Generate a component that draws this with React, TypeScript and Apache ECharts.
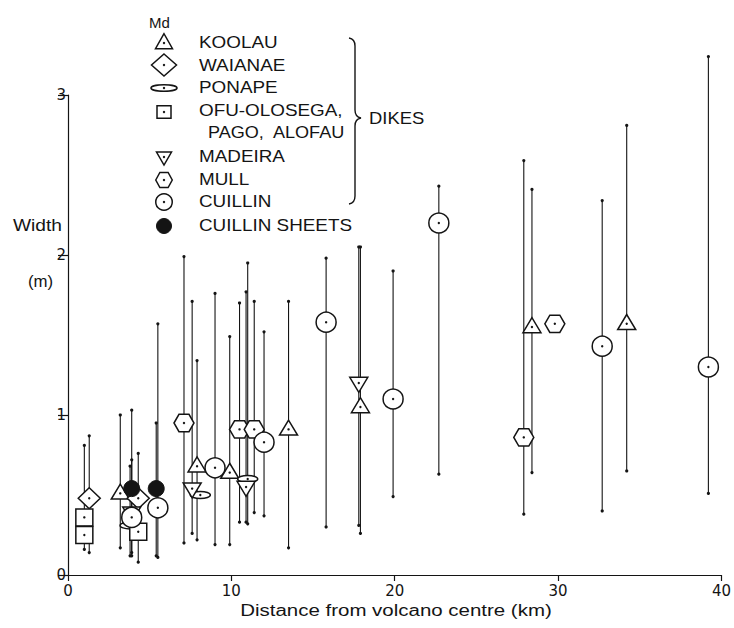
import React, { useEffect, useRef } from "react";
import * as echarts from "echarts";

// Each row: [distance from volcano centre (km), median width (m), min width, max width]
const koolau = [
  [3.2, 0.51, 0.17, 1.0],
  [7.9, 0.68, 0.22, 1.34],
  [9.9, 0.64, 0.19, 1.49],
  [13.5, 0.91, 0.17, 1.71],
  [17.9, 1.05, 0.26, 2.05],
  [28.4, 1.55, 0.64, 2.41],
  [34.2, 1.57, 0.65, 2.81],
];
const waianae = [
  [1.3, 0.48, 0.14, 0.87],
  [4.3, 0.48, null, null],
];
const ponape = [
  [3.8, 0.31, 0.12, 0.68],
  [8.1, 0.5, null, null],
  [11.0, 0.6, 0.32, 1.95],
];
const ofu = [
  [1.0, 0.36, 0.16, 0.81],
  [1.0, 0.25, null, null],
  [4.3, 0.27, 0.08, 0.76],
];
const madeira = [
  [3.9, 0.39, 0.12, 0.72],
  [7.6, 0.54, 0.26, 1.71],
  [10.9, 0.55, 0.33, 1.77],
  [17.8, 1.2, 0.31, 2.05],
];
const mull = [
  [7.1, 0.95, 0.2, 1.99],
  [10.5, 0.91, 0.33, 1.7],
  [11.4, 0.91, 0.39, 1.71],
  [27.9, 0.86, 0.38, 2.59],
  [29.8, 1.57, null, null],
];
const cuillin = [
  [3.9, 0.36, null, null],
  [5.5, 0.42, 0.11, 1.57],
  [9.0, 0.67, 0.19, 1.76],
  [12.0, 0.83, 0.37, 1.52],
  [15.8, 1.58, 0.3, 1.98],
  [19.9, 1.1, 0.49, 1.9],
  [22.7, 2.2, 0.63, 2.43],
  [32.7, 1.43, 0.4, 2.34],
  [39.2, 1.3, 0.51, 3.24],
];
const sheets = [
  [3.9, 0.54, 0.14, 1.03],
  [5.4, 0.54, 0.12, 0.95],
];

const xTicks = [0, 10, 20, 30, 40];
const yTicks = [0, 1, 2, 3];

const groups = [
  { name: "KOOLAU", kind: "triangle", data: koolau },
  { name: "WAIANAE", kind: "diamond", data: waianae },
  { name: "PONAPE", kind: "ellipse", data: ponape },
  { name: "OFU-OLOSEGA, PAGO, ALOFAU", kind: "square", data: ofu },
  { name: "MADEIRA", kind: "invtri", data: madeira },
  { name: "MULL", kind: "hexagon", data: mull },
  { name: "CUILLIN", kind: "circle", data: cuillin },
  { name: "CUILLIN SHEETS", kind: "filled", data: sheets },
];

const INK = "#141414";
const FONT = "Liberation Sans";

const plotSize: Record<string, any> = {
  triangle: { w: 18, h: 15 },
  invtri: { w: 18, h: 15 },
  diamond: { w: 22, h: 21 },
  ellipse: { w: 20, h: 7 },
  square: { w: 17, h: 17 },
  hexagon: { w: 20, h: 17.3 },
  circle: { w: 20, h: 20 },
  filled: { w: 16, h: 16 },
};
const legendSize: Record<string, any> = {
  triangle: { w: 17, h: 15 },
  invtri: { w: 15, h: 13 },
  diamond: { w: 25, h: 22 },
  ellipse: { w: 26, h: 6.5 },
  square: { w: 14, h: 12.5 },
  hexagon: { w: 16.5, h: 15 },
  circle: { w: 16.5, h: 16.5 },
  filled: { w: 15, h: 15 },
};

function shapeEls(kind: string, cx: number, cy: number, s: any) {
  const st = { fill: "#fff", stroke: INK, lineWidth: 1.5 };
  let main: any;
  const w = s.w, h = s.h;
  switch (kind) {
    case "triangle":
      main = { type: "polygon", shape: { points: [[cx, cy - h * 0.62], [cx - w / 2, cy + h * 0.38], [cx + w / 2, cy + h * 0.38]] }, style: st };
      break;
    case "invtri":
      main = { type: "polygon", shape: { points: [[cx - w / 2, cy - h * 0.38], [cx + w / 2, cy - h * 0.38], [cx, cy + h * 0.62]] }, style: st };
      break;
    case "diamond":
      main = { type: "polygon", shape: { points: [[cx, cy - h / 2], [cx + w / 2, cy], [cx, cy + h / 2], [cx - w / 2, cy]] }, style: st };
      break;
    case "ellipse":
      main = { type: "ellipse", shape: { cx, cy, rx: w / 2, ry: h / 2 }, style: st };
      break;
    case "square":
      main = { type: "rect", shape: { x: cx - w / 2, y: cy - h / 2, width: w, height: h }, style: st };
      break;
    case "hexagon":
      main = {
        type: "polygon",
        shape: {
          points: [
            [cx - w / 2, cy], [cx - w / 4, cy - h / 2], [cx + w / 4, cy - h / 2],
            [cx + w / 2, cy], [cx + w / 4, cy + h / 2], [cx - w / 4, cy + h / 2],
          ],
        },
        style: st,
      };
      break;
    case "circle":
      main = { type: "circle", shape: { cx, cy, r: w / 2 }, style: st };
      break;
    default:
      main = { type: "circle", shape: { cx, cy, r: w / 2 }, style: { fill: INK, stroke: INK, lineWidth: 1 } };
  }
  const els = [main];
  if (kind !== "filled") els.push({ type: "circle", shape: { cx, cy, r: 1.2 }, style: { fill: INK } });
  return els;
}

const BraceShape = (echarts as any).graphic.extendPath(
  "M349,38 Q355,39 355,46 L355,110 Q355,117 361,118 Q355,119 355,126 L355,196 Q355,203 349,204",
  {}
);
(echarts as any).graphic.registerShape("brace", BraceShape);

const toNum = (v: any) => (v == null ? NaN : v);

export default function App() {
  const ref = useRef<HTMLDivElement>(null);
  useEffect(() => {
    document.body.style.margin = "0";
    if (!ref.current) return;
    const chart = echarts.init(ref.current, null, { renderer: "svg" });

    const rangeData: any[] = [];
    groups.forEach((g) => g.data.forEach((d) => { if (d[2] != null && d[3] != null) rangeData.push([d[0], d[1], d[2], d[3]]); }));

    const rangeSeries: any = {
      type: "custom",
      name: "ranges",
      clip: false,
      silent: true,
      z: 2,
      encode: { x: 0, y: 1 },
      data: rangeData,
      renderItem: (_p: any, api: any) => {
        const x = api.value(0);
        const a = api.coord([x, api.value(2)]);
        const b = api.coord([x, api.value(3)]);
        return {
          type: "group",
          children: [
            { type: "line", shape: { x1: a[0], y1: a[1], x2: b[0], y2: b[1] }, style: { stroke: INK, lineWidth: 1.1 } },
            { type: "circle", shape: { cx: a[0], cy: a[1], r: 1.6 }, style: { fill: INK } },
            { type: "circle", shape: { cx: b[0], cy: b[1], r: 1.6 }, style: { fill: INK } },
          ],
        };
      },
    };

    const markerSeries = groups.map((g, i) => ({
      type: "custom",
      name: g.name,
      clip: false,
      silent: true,
      z: 3 + i,
      encode: { x: 0, y: 1 },
      data: g.data.map((d) => [d[0], d[1], toNum(d[2]), toNum(d[3])]),
      renderItem: (_p: any, api: any) => {
        const c = api.coord([api.value(0), api.value(1)]);
        return { type: "group", children: shapeEls(g.kind, c[0], c[1], plotSize[g.kind]) };
      },
    }));

    // Legend (drawn)
    const legendRows = [
      { kind: "triangle", label: "KOOLAU", sy: 43, ty: 43 },
      { kind: "diamond", label: "WAIANAE", sy: 65, ty: 66 },
      { kind: "ellipse", label: "PONAPE", sy: 88, ty: 88 },
      { kind: "square", label: "OFU-OLOSEGA,", sy: 112, ty: 111 },
      { kind: "invtri", label: "MADEIRA", sy: 157, ty: 157 },
      { kind: "hexagon", label: "MULL", sy: 180, ty: 180 },
      { kind: "circle", label: "CUILLIN", sy: 202, ty: 202 },
      { kind: "filled", label: "CUILLIN SHEETS", sy: 226, ty: 226 },
    ];
    const textStyle = (text: string, extra: any = {}) => ({
      text,
      fontFamily: FONT,
      fontSize: 16,
      fill: INK,
      align: "left",
      verticalAlign: "middle",
      ...extra,
    });
    const graphic: any[] = [];
    graphic.push({ type: "text", x: 149, y: 22, silent: true, style: textStyle("Md", { fontSize: 15 }) });
    legendRows.forEach((r) => {
      shapeEls(r.kind, 164, r.sy, legendSize[r.kind]).forEach((e: any) => graphic.push({ ...e, silent: true }));
      graphic.push({ type: "text", x: 199, y: r.ty, scaleX: 1.18, silent: true, style: textStyle(r.label) });
    });
    graphic.push({ type: "text", x: 208, y: 133, scaleX: 1.13, silent: true, style: textStyle("PAGO,  ALOFAU") });
    graphic.push({ type: "brace", x: 0, y: 0, silent: true, style: { fill: "none", stroke: INK, lineWidth: 1.4 } });
    graphic.push({ type: "text", x: 369, y: 118, scaleX: 1.15, silent: true, style: textStyle("DIKES") });
    graphic.push({ type: "text", x: 13, y: 226, scaleX: 1.2, silent: true, style: textStyle("Width") });
    graphic.push({ type: "text", x: 28, y: 281, scaleX: 1.05, silent: true, style: textStyle("(m)") });
    graphic.push({
      type: "text",
      x: 396,
      y: 610,
      scaleX: 1.28,
      silent: true,
      style: textStyle("Distance from volcano centre (km)", { align: "center" }),
    });

    chart.setOption({
      animation: false,
      backgroundColor: "#fff",
      grid: { left: 68, right: 10, top: 95, bottom: 53, containLabel: false },
      xAxis: {
        type: "value",
        min: xTicks[0],
        max: xTicks[xTicks.length - 1],
        interval: xTicks[1] - xTicks[0],
        splitLine: { show: false },
        axisLine: { lineStyle: { color: INK, width: 1.2 } },
        axisTick: { inside: false, length: 6, lineStyle: { color: INK, width: 1.2 } },
        axisLabel: { color: INK, fontFamily: "DejaVu Sans", fontSize: 15, margin: 8 },
      },
      yAxis: {
        type: "value",
        min: yTicks[0],
        max: yTicks[yTicks.length - 1],
        interval: yTicks[1] - yTicks[0],
        splitLine: { show: false },
        axisLine: { show: true, lineStyle: { color: INK, width: 1.2 } },
        axisTick: { show: true, inside: false, length: 10, lineStyle: { color: INK, width: 1.2 } },
        axisLabel: { color: INK, fontFamily: "DejaVu Sans", fontSize: 15, margin: 2 },
      },
      graphic,
      series: [rangeSeries, ...markerSeries],
    } as any);
    return () => chart.dispose();
  }, []);
  return <div ref={ref} style={{ width: 734, height: 628 }} />;
}
